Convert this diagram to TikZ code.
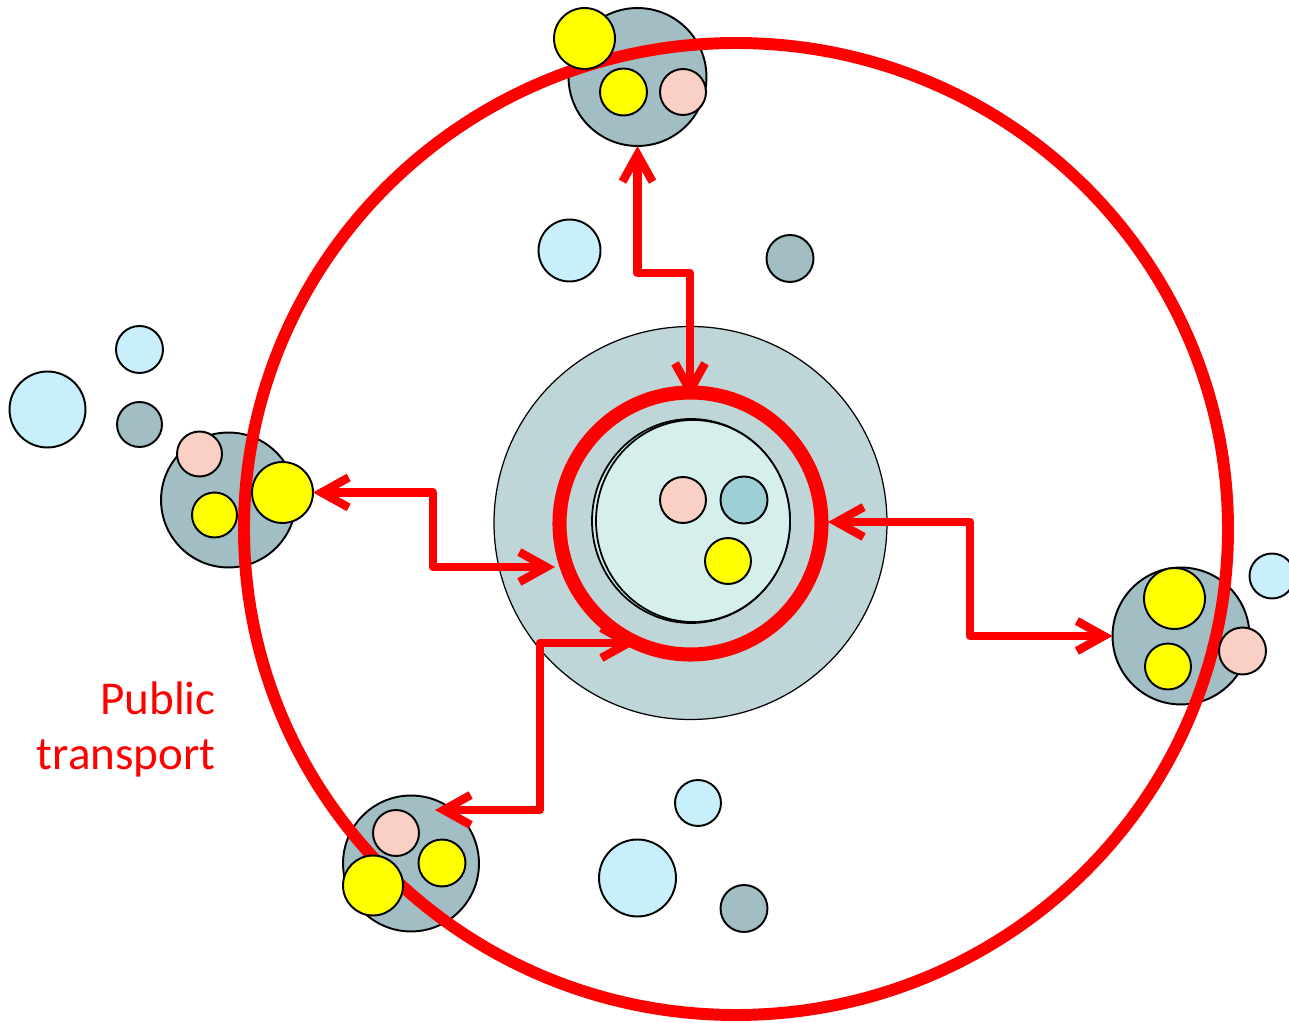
\documentclass[tikz,border=0pt]{standalone}
\usepackage{fontspec}
\setmainfont{Carlito}
\usetikzlibrary{arrows.meta}
\definecolor{hubout}{HTML}{BED6D8}
\definecolor{hubin}{HTML}{D5EFEC}
\definecolor{greyc}{HTML}{A0BEC4}
\definecolor{lblue}{HTML}{C8F0FC}
\definecolor{pinkc}{HTML}{FBD0C4}
\definecolor{tealc}{HTML}{9DD0D4}
\definecolor{yellowc}{HTML}{FFFF00}
\definecolor{redc}{HTML}{FF0000}
\begin{document}
\begin{tikzpicture}[x=0.02cm,y=-0.02cm,
  dot/.style={circle, draw=black, line width=1.1pt, inner sep=0pt, outer sep=0pt, minimum size=#1*0.04cm},
  grey/.style={dot=#1, fill=greyc},
  lb/.style={dot=#1, fill=lblue},
  pk/.style={dot=#1, fill=pinkc},
  yl/.style={dot=#1, fill=yellowc},
  tl/.style={dot=#1, fill=tealc},
  conn/.style={draw=redc, line width=4.8pt, line join=round,
    arrows={Straight Barb[length=0.54cm,width=0.6cm]-Straight Barb[length=0.54cm,width=0.6cm]}},
  lbl/.style={anchor=base east, inner sep=0pt, text=redc, font=\fontsize{26.8}{32}\selectfont}]
\useasboundingbox (0,0) rectangle (1289,1023);

% central hub
\node[circle, draw=black, line width=0.7pt, fill=hubout, inner sep=0pt, minimum size=393*0.02cm] (hub) at (690.5,523) {};
\draw[fill=hubin, line width=1pt] (691,521) ellipse [x radius=99, y radius=102];
\draw[fill=hubin, line width=1pt] (693,521) ellipse [x radius=97, y radius=101];
\node[pk=23] (cp) at (683,500) {};
\node[tl=23.5] (ct) at (744,500) {};
\node[yl=23] (cy) at (728,561) {};

% scattered circles
\node[lb=31] (lb1) at (569.5,250.5) {};
\node[grey=23.5] (gd1) at (790,258.5) {};
\node[lb=23.5] (lb2) at (139.5,349.5) {};
\node[lb=38] (lb3) at (47.5,409.5) {};
\node[grey=22.5] (gd2) at (139.5,424.5) {};
\node[lb=23] (lb4) at (698,803) {};
\node[lb=38.5] (lb5) at (637.5,878) {};
\node[grey=23.5] (gd3) at (744,908.5) {};
\node[lb=22.5] (lb6) at (1272,576) {};

% clusters (lower layer)
\node[grey=69] (tg) at (637.5,77) {};
\node[yl=23.5] (ts) at (623.5,92) {};
\node[pk=23] (tp) at (683,92) {};

\node[grey=67.5] (lg) at (228.5,500) {};
\node[pk=22.5] (lp) at (199.5,454) {};
\node[yl=22.5] (ls) at (214.5,515) {};

\node[grey=68.5] (rg) at (1181,636) {};
\node[yl=30.5] (ry) at (1174.5,598.5) {};
\node[yl=23] (rs) at (1168,666.5) {};

\node[grey=68] (bg) at (411,863.5) {};
\node[pk=23] (bp) at (396,833) {};
\node[yl=23.5] (bs) at (442,863) {};

% public transport ring
\draw[redc, line width=6.8pt] (736,529) ellipse [x radius=492, y radius=486];

% clusters (upper layer)
\node[yl=30.5] (ty) at (584.5,38.5) {};
\node[yl=30.5] (ly) at (282.5,492.5) {};
\node[pk=23.5] (rp) at (1242.5,651) {};
\node[yl=30] (by) at (373,885.5) {};

% inner red ring
\draw[redc, line width=8pt] (690.5,523.5) circle [radius=131];

% arrows
\coordinate (ctop) at (690,273);
\coordinate (ringtop) at (690,399);
\coordinate (lbend) at (433,567);
\coordinate (ringw) at (555,567);
\coordinate (ringe) at (828,522);
\coordinate (rbend) at (970,636);
\coordinate (bend) at (435,810);
\coordinate (bbend) at (540,643);
\coordinate (ringsw) at (637,643);

\draw[conn] (tg.south) |- (ctop) -- (ringtop);
\draw[conn] (ly.east) -| (lbend) -- (ringw);
\draw[conn] (ringe) -| (rbend) -- (rg.west);
\draw[conn] (bend) -| (bbend) -- (ringsw);

% label
\node[lbl] (pub) at (216,715) {Public};
\node[lbl] (trans) at (216,770) {transport};
\end{tikzpicture}
\end{document}
